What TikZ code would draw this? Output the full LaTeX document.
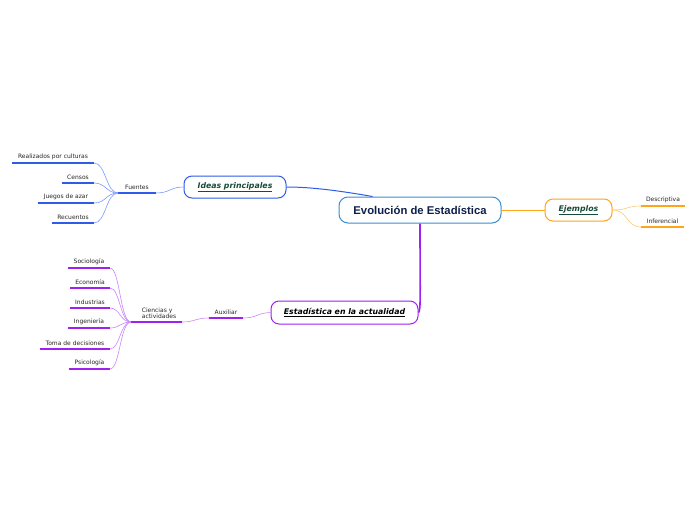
\documentclass[tikz,border=0pt]{standalone}
\usepackage{fontspec}
\usetikzlibrary{calc}
\setmainfont{DejaVu Sans}
\newfontfamily\titlefont{Liberation Sans}
\definecolor{cblue}{HTML}{2F5BEA}
\definecolor{lblue}{HTML}{7A98FF}
\definecolor{cpurp}{HTML}{A020F0}
\definecolor{lpurp}{HTML}{C884FF}
\definecolor{corng}{HTML}{FFA41B}
\definecolor{lorng}{HTML}{FFCB70}
\definecolor{cborder}{HTML}{3A8ED0}
\definecolor{navy}{HTML}{0F1F4A}
\definecolor{dgreen}{HTML}{174A38}
\newcommand{\brtext}[1]{\raisebox{-1.5pt}{\underline{#1}}}
\begin{document}
\begin{tikzpicture}[x=1pt,y=-1pt,
  mainbox/.style={draw=cborder,line width=1pt,rounded corners=9pt,fill=white,minimum width=162pt,minimum height=26pt,font=\titlefont\bfseries\fontsize{11.3}{13}\selectfont,text=navy},
  branch/.style={rounded corners=8pt,line width=1pt,fill=white,minimum height=22pt,font=\bfseries\itshape\fontsize{7.8}{9}\selectfont,inner sep=0pt},
  lbl/.style={font=\fontsize{6}{6.6}\selectfont,inner sep=1pt,anchor=south,text=black!85},
  ulb/.style={draw=cblue,line width=1.6pt},
  ulp/.style={draw=cpurp,line width=1.6pt},
  ulo/.style={draw=corng,line width=1.6pt},
  cb/.style={draw=lblue,line width=0.6pt},
  cp/.style={draw=lpurp,line width=0.6pt},
  co/.style={draw=lorng,line width=0.6pt},
]
\useasboundingbox (0,0) rectangle (696,520);

% main nodes
\node[mainbox] (cen) at (420,210) {Evolución de Estadística};
\node[branch,draw=cblue,minimum width=102pt,text=dgreen] (ide) at (235,187) {\brtext{Ideas principales}};
\node[branch,draw=corng,minimum width=67pt,text=dgreen] (eje) at (578.5,210) {\brtext{Ejemplos}};
\node[branch,draw=cpurp,minimum width=147pt,minimum height=23pt,text=black] (act) at (344.5,312.5) {\brtext{Estadística en la actualidad}};

% main connectors
\draw[draw=cblue,line width=1pt] ([xshift=34pt]cen.north west) .. controls (330,189) and (305,187) .. (ide.east);
\draw[draw=corng,line width=1pt] (cen.east) -- (eje.west);
\draw[draw=cpurp,line width=1.6pt] (cen.south) .. controls (420,290) and (421,312) .. (act.east);

% ---------- Fuentes ----------
\coordinate (fuL) at (118,193); \coordinate (fuR) at (156,193);
\draw[ulb] (fuL) -- (fuR);
\node[lbl] (fu) at (137,190.5) {Fuentes};
\draw[cb] (ide.west) .. controls (170,187) and (170,193) .. (fuR);

\coordinate (r1L) at (12,163); \coordinate (r1R) at (94,163);
\coordinate (r2L) at (62,183); \coordinate (r2R) at (94,183);
\coordinate (r3L) at (38,203); \coordinate (r3R) at (94,203);
\coordinate (r4L) at (52,223); \coordinate (r4R) at (94,223);
\foreach \a/\t in {r1/Realizados por culturas,r2/Censos,r3/Juegos de azar,r4/Recuentos}{
  \draw[ulb] (\a L) -- (\a R);
  \node[lbl] (\a) at ($(\a L)!0.5!(\a R)+(0,-2.5)$) {\t};
  \draw[cb] (fuL) .. controls (106,193) and +(12,0) .. (\a R);
}

% ---------- Ejemplos ----------
\coordinate (e1L) at (641,206); \coordinate (e1R) at (685,206);
\coordinate (e2L) at (641,227); \coordinate (e2R) at (684,227);
\foreach \a/\t in {e1/Descriptiva,e2/Inferencial}{
  \draw[ulo] (\a L) -- (\a R);
  \node[lbl] (\a) at ($(\a L)!0.5!(\a R)+(0,-2.5)$) {\t};
  \draw[co] (eje.east) .. controls (628,210) and +(-15,0) .. (\a L);
}

% ---------- Auxiliar ----------
\coordinate (auL) at (209,318); \coordinate (auR) at (243,318);
\draw[ulp] (auL) -- (auR);
\node[lbl] (au) at (226,315.5) {Auxiliar};
\draw[cp] (act.west) .. controls (257,313) and (257,318) .. (auR);

\coordinate (ciL) at (131,322); \coordinate (ciR) at (182,322);
\draw[ulp] (ciL) -- (ciR);
\node[lbl,align=left] (ci) at (159,320) {Ciencias y\\actividades};
\draw[cp] (auL) .. controls (195,318) and (195,322) .. (ciR);

\coordinate (s1L) at (68,268); \coordinate (s1R) at (110,268);
\coordinate (s2L) at (70,288); \coordinate (s2R) at (110,288);
\coordinate (s3L) at (70,308); \coordinate (s3R) at (110,308);
\coordinate (s4L) at (68,328); \coordinate (s4R) at (110,328);
\coordinate (s5L) at (40,349); \coordinate (s5R) at (110,349);
\coordinate (s6L) at (69,369); \coordinate (s6R) at (110,369);
\foreach \a/\t in {s1/Sociología,s2/Economía,s3/Industrias,s4/Ingeniería,s5/Toma de decisiones,s6/Psicología}{
  \draw[ulp] (\a L) -- (\a R);
  \node[lbl] (\a) at ($(\a L)!0.5!(\a R)+(0,-2.5)$) {\t};
  \draw[cp] (ciL) .. controls (120,322) and +(10,0) .. (\a R);
}
\end{tikzpicture}
\end{document}
